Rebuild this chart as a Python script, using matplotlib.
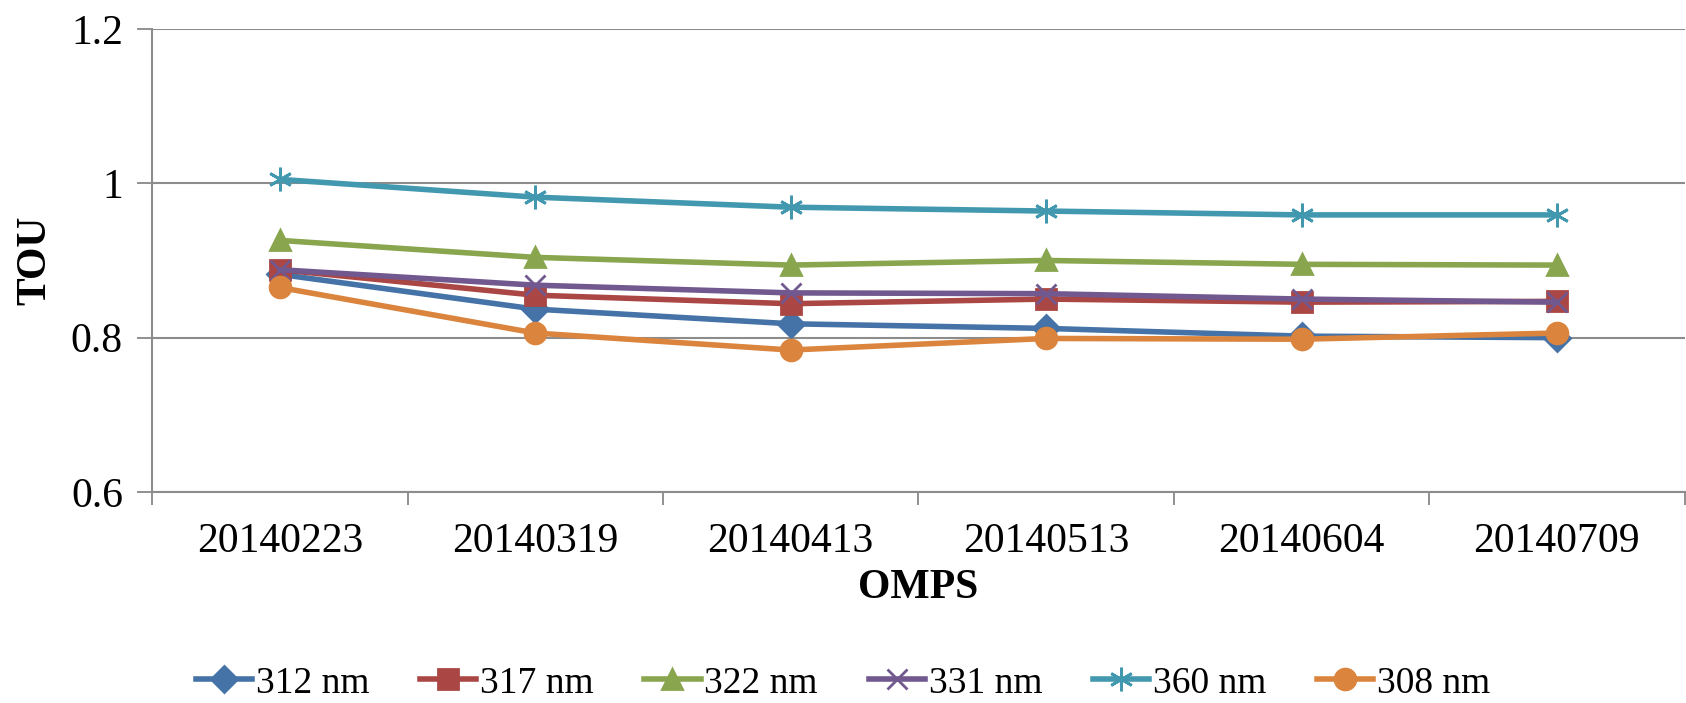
import matplotlib.pyplot as plt
import numpy as np

plt.rcParams['font.family'] = ['Liberation Serif', 'DejaVu Serif']

dates = ['20140223', '20140319', '20140413', '20140513', '20140604', '20140709']
tou_312 = [0.882, 0.837, 0.818, 0.812, 0.802, 0.800]
tou_317 = [0.888, 0.855, 0.844, 0.850, 0.846, 0.847]
tou_322 = [0.926, 0.904, 0.894, 0.900, 0.895, 0.894]
tou_331 = [0.888, 0.868, 0.858, 0.857, 0.850, 0.846]
tou_360 = [1.005, 0.982, 0.969, 0.964, 0.959, 0.959]
tou_308 = [0.865, 0.806, 0.784, 0.799, 0.798, 0.806]

series = [
    ('312 nm', tou_312, '#4572A7', 'D', 13),
    ('317 nm', tou_317, '#AA4643', 's', 14),
    ('322 nm', tou_322, '#89A54E', '^', 15),
    ('331 nm', tou_331, '#71588F', 'x', 14),
    ('360 nm', tou_360, '#4198AF', (6, 2, 0), 17),
    ('308 nm', tou_308, '#DB843D', 'o', 15),
]

fig = plt.figure(figsize=(16.86, 7.03), dpi=100)
ax = fig.add_axes([0.0902, 0.300, 0.909, 0.659])

x = np.arange(len(dates))
for name, vals, col, mk, ms in series:
    ax.plot(x, vals, color=col, lw=4, marker=mk, ms=ms, mew=2,
            mfc=col, mec=col, label=name)

ax.set_ylim(0.6, 1.2)
ax.set_yticks([0.6, 0.8, 1.0, 1.2])
ax.set_yticklabels(['0.6', '0.8', '1', '1.2'])
ax.set_xlim(-0.5, len(dates) - 0.5)
ax.set_xticks(x)
ax.set_xticklabels(dates)
ax.set_xticks(np.arange(-0.5, len(dates)), minor=True)
ax.tick_params(axis='x', which='major', length=0, pad=22, labelsize=30)
ax.tick_params(axis='x', which='minor', length=9, width=1.3, color='#888888')
ax.tick_params(axis='y', length=11, width=1.3, color='#888888', pad=10, labelsize=30)

ax.grid(axis='y', color='#8c8c8c', lw=1.5)
ax.set_axisbelow(True)
for s in ['top', 'right']:
    ax.spines[s].set_visible(False)
for s in ['left', 'bottom']:
    ax.spines[s].set_color('#8c8c8c')
    ax.spines[s].set_linewidth(1.5)

ax.set_xlabel('OMPS', fontsize=30, fontweight='bold', labelpad=6)
ax.set_ylabel('TOU', fontsize=30, fontweight='bold', labelpad=12)

fig.legend(*ax.get_legend_handles_labels(), loc='center', bbox_to_anchor=(0.5, 0.028),
           ncol=6, frameon=False, fontsize=27, handlelength=1.5,
           handletextpad=0.1, columnspacing=1.35)

fig.savefig('out.png', dpi=100)
